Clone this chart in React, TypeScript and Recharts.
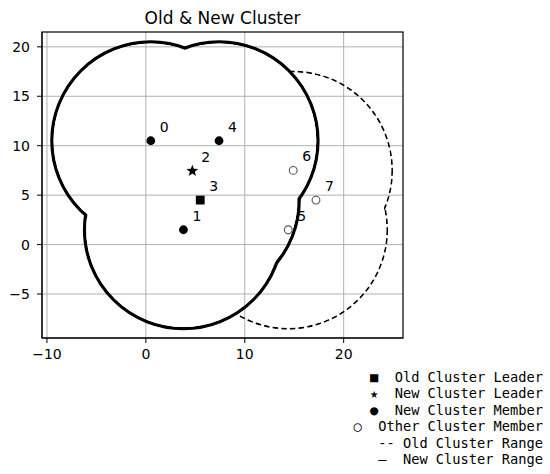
import React from "react";
import * as R from "recharts";
import { ScatterChart, Scatter, XAxis, YAxis, CartesianGrid } from "recharts";

// point ids and coordinates
const memberIds = [0, 1, 4];
const memberX = [0.5, 3.8, 7.4];
const memberY = [10.5, 1.5, 10.5];

const newLeaderIds = [2];
const newLeaderX = [4.7];
const newLeaderY = [7.45];

const oldLeaderIds = [3];
const oldLeaderX = [5.5];
const oldLeaderY = [4.5];

const otherIds = [5, 6, 7];
const otherX = [14.4, 14.9, 17.2];
const otherY = [1.5, 7.5, 4.5];

const rangeRadius = 10;
const newRangeIds = [0, 1, 2, 3, 4];
const oldRangeIds = [0, 1, 2, 3, 4, 5, 6];

const xTicks = [-10, 0, 10, 20];
const yTicks = [-5, 0, 5, 10, 15, 20];
const xDomain = [-10.5, 26];
const yDomain = [-9.45, 21.5];

const legendRows = [
  "■  Old Cluster Leader",
  "★  New Cluster Leader",
  "●  New Cluster Member",
  "○  Other Cluster Member",
  "-- Old Cluster Range",
  "–  New Cluster Range",
];

const zip = (ids: number[], xs: number[], ys: number[]) =>
  ids.map((id, i) => ({ id, x: xs[i], y: ys[i] }));

const members = zip(memberIds, memberX, memberY);
const newLeader = zip(newLeaderIds, newLeaderX, newLeaderY);
const oldLeader = zip(oldLeaderIds, oldLeaderX, oldLeaderY);
const others = zip(otherIds, otherX, otherY);
const allPoints = [...members, ...newLeader, ...oldLeader, ...others];

const FONT = "DejaVu Sans";
// eslint-disable-next-line @typescript-eslint/no-explicit-any
const Rx: any = R;

const fmt = (v: number) => String(v).replace("-", "\u2212");

// maps data coords to pixels using the chart's plot area and axis domains
function usePixel() {
  const area = Rx.usePlotArea ? Rx.usePlotArea() : Rx.useOffset ? Rx.useOffset() : null;
  const xd = Rx.useXAxisDomain ? Rx.useXAxisDomain() : null;
  const yd = Rx.useYAxisDomain ? Rx.useYAxisDomain() : null;
  if (!area) return null;
  const left = area.x ?? area.left;
  const top = area.y ?? area.top;
  const w = area.width;
  const h = area.height;
  const [x0, x1] = xd && xd.length === 2 ? xd : xDomain;
  const [y0, y1] = yd && yd.length === 2 ? yd : yDomain;
  return {
    area: { left, top, w, h },
    px: (x: number, y: number): [number, number] => [
      left + ((x - x0) / (x1 - x0)) * w,
      top + h - ((y - y0) / (y1 - y0)) * h,
    ],
  };
}

// outline of a union of range circles: stroke every circle, hide the parts inside the union
function RangeOutline({ ids, dashed }: { ids: number[]; dashed?: boolean }) {
  const p = usePixel();
  if (!p) return null;
  const circles = ids.map((id) => {
    const pt = allPoints.find((q) => q.id === id)!;
    const [cx, cy] = p.px(pt.x, pt.y);
    const [ex] = p.px(pt.x + rangeRadius, pt.y);
    const [, ey] = p.px(pt.x, pt.y + rangeRadius);
    return { cx, cy, rx: Math.abs(ex - cx), ry: Math.abs(cy - ey) };
  });
  const maskId = dashed ? "mask-old" : "mask-new";
  const lw = dashed ? 1.7 : 3.3;
  return (
    <g>
      <defs>
        <mask id={maskId} maskUnits="userSpaceOnUse" x={0} y={0} width={550} height={474}>
          <rect x={0} y={0} width={550} height={474} fill="#fff" />
          {circles.map((c, i) => (
            <ellipse key={i} cx={c.cx} cy={c.cy} rx={c.rx - lw / 2} ry={c.ry - lw / 2} fill="#000" />
          ))}
        </mask>
      </defs>
      <g mask={`url(#${maskId})`}>
        {circles.map((c, i) => (
          <ellipse
            key={i}
            cx={c.cx}
            cy={c.cy}
            rx={c.rx}
            ry={c.ry}
            fill="none"
            stroke="#000"
            strokeWidth={lw}
            strokeDasharray={dashed ? "5.5 3.2" : undefined}
          />
        ))}
      </g>
    </g>
  );
}

function Frame() {
  const p = usePixel();
  if (!p) return null;
  const { left, top, w, h } = p.area;
  return (
    <g>
      <rect x={left} y={top} width={w} height={h} fill="none" stroke="#000" strokeWidth={1.2} />
      <text x={left + w / 2} y={24} textAnchor="middle" fontFamily={FONT} fontSize={17} fill="#000">
        Old &amp; New Cluster
      </text>
    </g>
  );
}

function Legend() {
  return (
    <g>
      {legendRows.map((row, i) => (
        <text
          key={row}
          x={543}
          y={382 + i * 16.4}
          textAnchor="end"
          fontFamily="DejaVu Sans Mono"
          fontSize={13.7}
          fill="#000"
          style={{ whiteSpace: "pre" }}
        >
          {row}
        </text>
      ))}
    </g>
  );
}

// eslint-disable-next-line @typescript-eslint/no-explicit-any
const label = (p: any) => (
  <text x={p.cx + 13.5} y={p.cy - 9} textAnchor="middle" fontFamily={FONT} fontSize={14} fill="#000">
    {p.payload.id}
  </text>
);

// eslint-disable-next-line @typescript-eslint/no-explicit-any
const FilledDot = (p: any) => (
  <g>
    <circle cx={p.cx} cy={p.cy} r={4.4} fill="#000" />
    {label(p)}
  </g>
);

// eslint-disable-next-line @typescript-eslint/no-explicit-any
const HollowDot = (p: any) => (
  <g>
    <circle cx={p.cx} cy={p.cy} r={3.9} fill="#fff" stroke="#555" strokeWidth={1.1} />
    {label(p)}
  </g>
);

// eslint-disable-next-line @typescript-eslint/no-explicit-any
const SquareMark = (p: any) => (
  <g>
    <rect x={p.cx - 4.4} y={p.cy - 4.4} width={8.8} height={8.8} fill="#000" />
    {label(p)}
  </g>
);

// eslint-disable-next-line @typescript-eslint/no-explicit-any
const StarMark = (p: any) => {
  const pts: string[] = [];
  for (let k = 0; k < 10; k++) {
    const r = k % 2 === 0 ? 6.2 : 2.6;
    const a = -Math.PI / 2 + (k * Math.PI) / 5;
    pts.push(`${p.cx + r * Math.cos(a)},${p.cy + r * Math.sin(a)}`);
  }
  return (
    <g>
      <polygon points={pts.join(" ")} fill="#000" />
      {label(p)}
    </g>
  );
};

export default function App() {
  return (
    <div style={{ position: "absolute", left: 0, top: 0, width: 550, height: 474, background: "#fff" }}>
      <ScatterChart width={550} height={474} margin={{ top: 32, right: 147, bottom: 106, left: 0 }}>
        <CartesianGrid stroke="#b0b0b0" strokeWidth={1} horizontalValues={yTicks} verticalValues={xTicks} />
        <XAxis
          type="number"
          dataKey="x"
          domain={xDomain}
          ticks={xTicks}
          allowDataOverflow
          height={30}
          tickSize={5}
          tickMargin={6}
          tickFormatter={fmt}
          tick={{ fill: "#000", fontSize: 14, fontFamily: FONT }}
          tickLine={{ stroke: "#000" }}
          axisLine={{ stroke: "#000" }}
        />
        <YAxis
          type="number"
          dataKey="y"
          domain={yDomain}
          ticks={yTicks}
          allowDataOverflow
          width={42}
          tickSize={5}
          tickMargin={7}
          tickFormatter={fmt}
          tick={{ fill: "#000", fontSize: 14, fontFamily: FONT }}
          tickLine={{ stroke: "#000" }}
          axisLine={{ stroke: "#000" }}
        />
        <RangeOutline ids={oldRangeIds} dashed />
        <RangeOutline ids={newRangeIds} />
        <Frame />
        <Scatter data={members} shape={FilledDot} isAnimationActive={false} />
        <Scatter data={newLeader} shape={StarMark} isAnimationActive={false} />
        <Scatter data={oldLeader} shape={SquareMark} isAnimationActive={false} />
        <Scatter data={others} shape={HollowDot} isAnimationActive={false} />
        <Legend />
      </ScatterChart>
    </div>
  );
}
